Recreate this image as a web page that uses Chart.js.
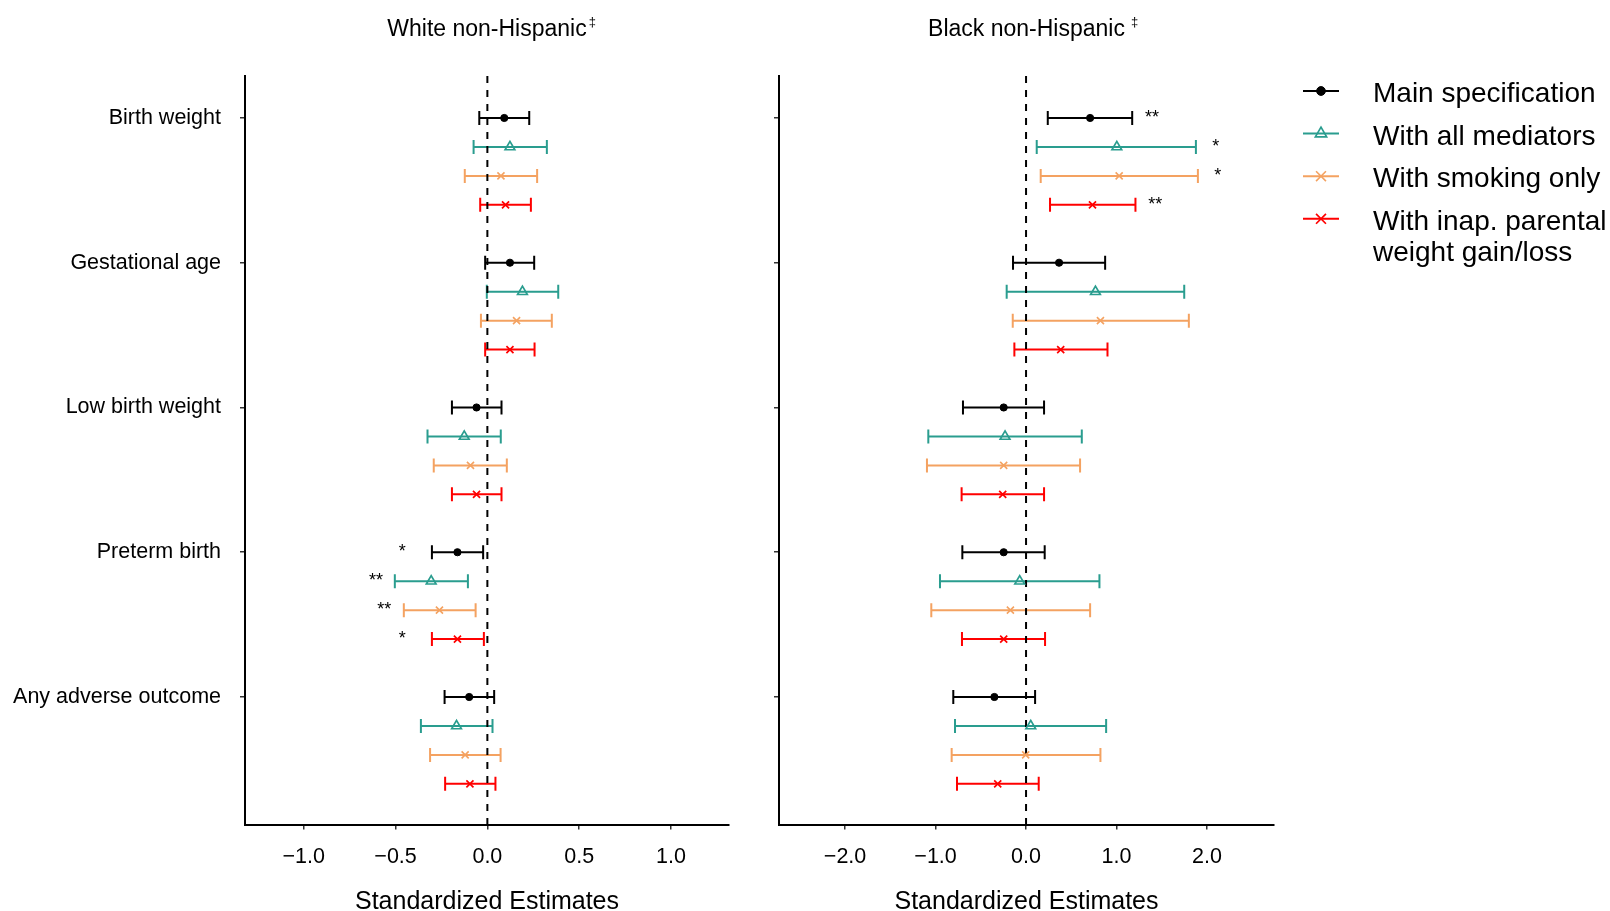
<!DOCTYPE html>
<html>
<head>
<meta charset="utf-8">
<title>Standardized estimates by race</title>
<script src="https://cdn.jsdelivr.net/npm/chart.js@4.4.1/dist/chart.umd.min.js"></script>
<style>
  html, body { margin: 0; padding: 0; background: #fff; overflow: hidden; }
  #wrap { position: relative; width: 1610px; height: 911px; }
  .panel { position: absolute; top: 0; height: 911px; }
  #whitePanel { left: 0; width: 760px; }
  #blackPanel { left: 760px; width: 850px; }
</style>
</head>
<body>
<div id="wrap">
  <div class="panel" id="whitePanel"><canvas id="whiteChart"></canvas></div>
  <div class="panel" id="blackPanel"><canvas id="blackChart"></canvas></div>
</div>
<script>
// outcomes, top to bottom
const outcomes = ["Birth weight", "Gestational age", "Low birth weight", "Preterm birth", "Any adverse outcome"];
// model variants, one row each under every outcome
const variants = ["Main specification", "With all mediators", "With smoking only", "With inap. parental\nweight gain/loss"];

// [lower CI, estimate, upper CI] per outcome
const whiteMain      = [[-0.044, 0.092, 0.228], [-0.012, 0.123, 0.255], [-0.193, -0.059, 0.077], [-0.302, -0.163, -0.023], [-0.233, -0.099, 0.037]];
const whiteMediators = [[-0.075, 0.123, 0.324], [-0.003, 0.191, 0.386], [-0.326, -0.126, 0.073], [-0.504, -0.306, -0.106], [-0.362, -0.168, 0.028]];
const whiteSmoking   = [[-0.123, 0.074, 0.271], [-0.035, 0.159, 0.351], [-0.292, -0.092, 0.106], [-0.455, -0.261, -0.064], [-0.312, -0.121, 0.072]];
const whiteWeight    = [[-0.039, 0.099, 0.237], [-0.012, 0.123, 0.257], [-0.193, -0.059, 0.077], [-0.302, -0.163, -0.019], [-0.230, -0.095, 0.044]];

const blackMain      = [[0.240, 0.708, 1.173], [-0.144, 0.365, 0.874], [-0.697, -0.247, 0.199], [-0.704, -0.247, 0.206], [-0.804, -0.350, 0.100]];
const blackMediators = [[0.118, 1.003, 1.877], [-0.214, 0.767, 1.748], [-1.080, -0.232, 0.616], [-0.951, -0.070, 0.811], [-0.785, 0.052, 0.885]];
const blackSmoking   = [[0.162, 1.029, 1.899], [-0.147, 0.822, 1.799], [-1.095, -0.247, 0.597], [-1.047, -0.173, 0.708], [-0.822, -0.004, 0.822]];
const blackWeight    = [[0.265, 0.734, 1.209], [-0.129, 0.383, 0.900], [-0.712, -0.258, 0.199], [-0.708, -0.247, 0.210], [-0.763, -0.313, 0.140]];

// significance stars, per variant then per outcome
const whiteStars = [["", "", "", "*", ""], ["", "", "", "**", ""], ["", "", "", "**", ""], ["", "", "", "*", ""]];
const blackStars = [["**", "", "", "", ""], ["*", "", "", "", ""], ["*", "", "", "", ""], ["**", "", "", "", ""]];

const whiteTicks = [-1, -0.5, 0, 0.5, 1];
const blackTicks = [-2, -1, 0, 1, 2];

const FONT = '"Liberation Sans", Arial, Helvetica, sans-serif';
Chart.defaults.font.family = FONT;
Chart.defaults.color = '#000';

const colors = ['#000000', '#2a9d8f', '#f4a261', '#ff0000'];
const markers = [
  { pointStyle: 'circle', radius: 3.6, fill: '#000000', width: 1, legendRadius: 4.4 },
  { pointStyle: 'triangle', radius: 5.6, fill: 'rgba(0,0,0,0)', width: 1.7, legendRadius: 6.5 },
  { pointStyle: 'crossRot', radius: 5, fill: 'rgba(0,0,0,0)', width: 1.6, legendRadius: 7 },
  { pointStyle: 'crossRot', radius: 5, fill: 'rgba(0,0,0,0)', width: 1.7, legendRadius: 7 }
];
const ROW_STEP = 0.2;   // spacing of variant rows inside one outcome
const CAP = 7;          // half height of the whisker caps

// whiskers, the dashed zero line, and the stars
const errorBars = {
  id: 'errorBars',
  beforeDatasetsDraw(chart) {
    const { ctx, chartArea, scales: { x, y } } = chart;
    ctx.save();
    ctx.lineWidth = 2;
    chart.data.datasets.forEach(ds => {
      ctx.strokeStyle = ds.borderColor;
      ds.data.forEach(d => {
        const yp = y.getPixelForValue(d.y);
        const x0 = x.getPixelForValue(d.lo);
        const x1 = x.getPixelForValue(d.hi);
        ctx.beginPath();
        ctx.moveTo(x0, yp); ctx.lineTo(x1, yp);
        ctx.moveTo(x0, yp - CAP); ctx.lineTo(x0, yp + CAP);
        ctx.moveTo(x1, yp - CAP); ctx.lineTo(x1, yp + CAP);
        ctx.stroke();
      });
    });
    const zx = x.getPixelForValue(0);
    ctx.strokeStyle = '#000';
    ctx.setLineDash([7, 7]);
    ctx.beginPath();
    ctx.moveTo(zx, chartArea.top);
    ctx.lineTo(zx, chartArea.bottom);
    ctx.stroke();
    ctx.restore();
  },
  afterDatasetsDraw(chart) {
    const { ctx, scales: { x, y } } = chart;
    ctx.save();
    ctx.font = '18px ' + FONT;
    ctx.fillStyle = '#000';
    ctx.textAlign = 'center';
    ctx.textBaseline = 'middle';
    chart.data.datasets.forEach(ds => {
      ds.data.forEach(d => {
        if (!d.star) return;
        // negative effects: left of the estimate; positive: right of the upper bound
        const xv = d.x < 0 ? d.x - 0.3 : d.hi + 0.22;
        ctx.fillText(d.star, x.getPixelForValue(xv), y.getPixelForValue(d.y));
      });
    });
    ctx.restore();
  }
};

// small raised double dagger after the panel title
const titleMark = {
  id: 'titleMark',
  afterDraw(chart, args, opts) {
    const t = chart.options.plugins.title;
    const f = Chart.helpers.toFont(t.font);
    const tb = chart.titleBlock;
    const { ctx } = chart;
    ctx.save();
    ctx.font = f.string;
    const w = ctx.measureText(t.text).width;
    const cx = (tb.left + tb.right) / 2;
    const cy = tb.top + t.padding.top + f.lineHeight / 2;
    ctx.font = '13px ' + FONT;
    ctx.fillStyle = '#000';
    ctx.textAlign = 'left';
    ctx.textBaseline = 'middle';
    ctx.fillText('\u2021', cx + w / 2 + opts.gap, cy - 7);
    ctx.restore();
  }
};

// legend with a line through each marker, to the right of the black panel
const sideLegend = {
  id: 'sideLegend',
  afterDraw(chart) {
    const { ctx } = chart;
    const lineX0 = 543, lineX1 = 579, textX = 613;
    ctx.save();
    chart.data.datasets.forEach((ds, k) => {
      const yy = 91 + 42.6 * k;
      const m = markers[k];
      ctx.strokeStyle = colors[k];
      ctx.fillStyle = m.fill;
      ctx.lineWidth = 2;
      ctx.beginPath();
      ctx.moveTo(lineX0, yy); ctx.lineTo(lineX1, yy);
      ctx.stroke();
      ctx.lineWidth = m.width;
      Chart.helpers.drawPoint(ctx, { pointStyle: m.pointStyle, radius: m.legendRadius, rotation: 0, borderWidth: m.width }, (lineX0 + lineX1) / 2, yy);
      ctx.fillStyle = '#000';
      ctx.font = '28px ' + FONT;
      ctx.textAlign = 'left';
      ctx.textBaseline = 'alphabetic';
      variants[k].split('\n').forEach((line, j) => {
        ctx.fillText(line, textX, yy + 11 + 31 * j);
      });
    });
    ctx.restore();
  }
};

function makeDatasets(series, stars) {
  return series.map((rows, k) => ({
    label: variants[k].replace('\n', ' '),
    data: rows.map((r, i) => ({ x: r[1], y: i + ROW_STEP * k, lo: r[0], hi: r[2], star: stars[k][i] })),
    borderColor: colors[k],
    backgroundColor: markers[k].fill,
    pointStyle: markers[k].pointStyle,
    pointRadius: markers[k].radius,
    pointBorderWidth: markers[k].width
  }));
}

function panel(canvasId, title, series, stars, ticks, xMin, xMax, cfg) {
  const axisGrid = { drawOnChartArea: false, drawTicks: true, tickLength: 5, color: '#333', lineWidth: 1.5 };
  const axisBorder = { display: true, color: '#000', width: 2 };
  return new Chart(document.getElementById(canvasId), {
    type: 'scatter',
    data: { datasets: makeDatasets(series, stars) },
    options: {
      responsive: true,
      maintainAspectRatio: false,
      animation: false,
      events: [],
      layout: { padding: { top: 0, right: cfg.padRight, bottom: 0, left: 0 } },
      plugins: {
        legend: { display: false },
        tooltip: { enabled: false },
        title: {
          display: true, text: title, fullSize: false, color: '#000',
          font: { size: 23, weight: 'normal' },
          padding: { top: 16, bottom: 32.4 }
        },
        titleMark: { gap: cfg.markGap }
      },
      scales: {
        x: {
          type: 'linear', min: xMin, max: xMax,
          afterBuildTicks: s => { s.ticks = ticks.map(v => ({ value: v })); },
          afterFit: s => { s.height = 86.5; },
          ticks: {
            autoSkip: false, maxRotation: 0, padding: 15, color: '#000',
            font: { size: 21.5 },
            callback: v => v.toFixed(1).replace('-', '\u2212')
          },
          grid: axisGrid,
          border: axisBorder,
          title: {
            display: true, text: 'Standardized Estimates', color: '#000',
            font: { size: 25, lineHeight: 0.85 }, padding: { top: 0, bottom: -2 }
          }
        },
        y: {
          type: 'linear', reverse: true, min: -0.290, max: 4.881,
          afterBuildTicks: s => { s.ticks = outcomes.map((_, i) => ({ value: i })); },
          afterFit: s => { s.width = cfg.yWidth; },
          ticks: {
            display: cfg.showLabels, autoSkip: false, padding: 19, color: '#000',
            font: { size: 21.5 },
            callback: v => outcomes[v]
          },
          grid: axisGrid,
          border: axisBorder
        }
      }
    },
    plugins: [errorBars, titleMark].concat(cfg.extra || [])
  });
}

panel('whiteChart', 'White non-Hispanic',
  [whiteMain, whiteMediators, whiteSmoking, whiteWeight], whiteStars,
  whiteTicks, -1.32, 1.316,
  { padRight: 31, yWidth: 245, showLabels: true, markGap: 2 });

panel('blackChart', 'Black non-Hispanic',
  [blackMain, blackMediators, blackSmoking, blackWeight], blackStars,
  blackTicks, -2.73, 2.74,
  { padRight: 336, yWidth: 19, showLabels: false, markGap: 6, extra: [sideLegend] });
</script>
</body>
</html>
